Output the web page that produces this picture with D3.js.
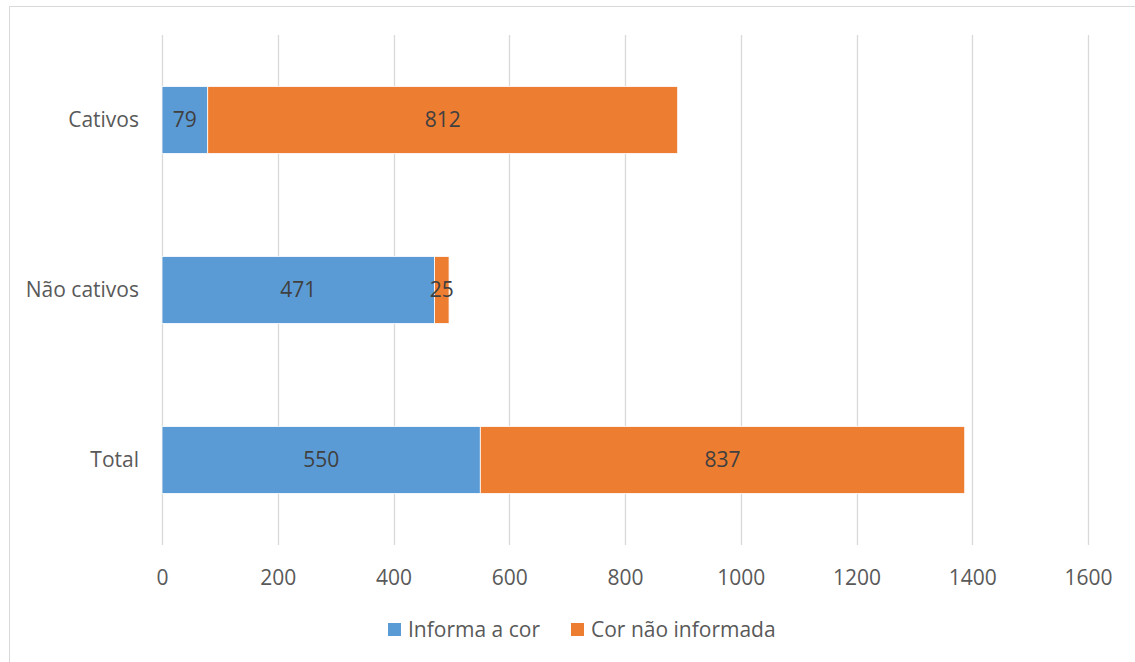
<!DOCTYPE html>
<html>
<head>
<meta charset="utf-8">
<script src="https://cdn.jsdelivr.net/npm/d3@7"></script>
<style>
  html, body { margin: 0; padding: 0; background: #fff; }
  svg { display: block; }
  text { font-family: "Open Sans", "Noto Sans", sans-serif; }
</style>
</head>
<body>
<svg id="chart" width="1135" height="662"></svg>
<script>
// Categories (top to bottom) and stacked series values
const categories = ["Cativos", "Não cativos", "Total"];
const informaCor = [79, 471, 550];
const corNaoInformada = [812, 25, 837];
const seriesNames = ["Informa a cor", "Cor não informada"];
const seriesColors = ["#5B9BD5", "#ED7D31"];
const xTicks = [0, 200, 400, 600, 800, 1000, 1200, 1400, 1600];

const FONT_SIZE = "21px";
const svg = d3.select("#chart");

// Outer chart frame
svg.append("rect")
  .attr("x", 9.5).attr("y", 6.5)
  .attr("width", 1140).attr("height", 670)
  .attr("fill", "none").attr("stroke", "#d9d9d9").attr("stroke-width", 1);

const plot = { left: 162, right: 1088, top: 35, bottom: 545 };

const x = d3.scaleLinear().domain([0, 1600]).range([plot.left, plot.right]);
const y = d3.scaleBand().domain(categories).range([plot.top, plot.bottom]).paddingInner(0.606).paddingOuter(0.303);

// Vertical gridlines
svg.append("g")
  .selectAll("line")
  .data(xTicks)
  .join("line")
  .attr("x1", d => Math.round(x(d)) + 0.5).attr("x2", d => Math.round(x(d)) + 0.5)
  .attr("y1", plot.top).attr("y2", plot.bottom)
  .attr("stroke", "#d9d9d9").attr("stroke-width", 1.3);

// X axis labels
const xAxis = d3.axisBottom(x).tickValues(xTicks).tickSize(0).tickPadding(0).tickFormat(d3.format("d"));
const gx = svg.append("g").attr("transform", `translate(0, ${plot.bottom + 33})`).call(xAxis);
gx.select(".domain").remove();
gx.selectAll("text")
  .attr("y", 0).attr("dy", "0.35em")
  .attr("fill", "#595959").style("font-size", FONT_SIZE)
  .style("font-family", "'Open Sans', sans-serif");

// Y axis category labels
const yAxis = d3.axisLeft(y).tickSize(0).tickPadding(0);
const gy = svg.append("g").attr("transform", `translate(${plot.left - 23}, 0)`).call(yAxis);
gy.select(".domain").remove();
gy.selectAll("text")
  .attr("fill", "#595959").style("font-size", FONT_SIZE)
  .style("font-family", "'Open Sans', sans-serif");

// Stacked data
const rows = categories.map((c, i) => ({ cat: c, s0: informaCor[i], s1: corNaoInformada[i] }));
const stack = d3.stack().keys(["s0", "s1"]);
const layers = stack(rows);

const gBars = svg.append("g");
layers.forEach((layer, li) => {
  gBars.append("g")
    .selectAll("rect")
    .data(layer)
    .join("rect")
    .attr("x", d => x(d[0]))
    .attr("y", d => y(d.data.cat))
    .attr("width", d => x(d[1]) - x(d[0]))
    .attr("height", y.bandwidth())
    .attr("fill", seriesColors[li])
    .attr("stroke", "#fff").attr("stroke-width", 0.8);
});

// Data labels, centred in each segment
layers.forEach((layer) => {
  svg.append("g")
    .selectAll("text")
    .data(layer)
    .join("text")
    .attr("x", d => (x(d[0]) + x(d[1])) / 2)
    .attr("y", d => y(d.data.cat) + y.bandwidth() / 2)
    .attr("dy", "0.35em")
    .attr("text-anchor", "middle")
    .attr("fill", "#404040")
    .style("font-size", FONT_SIZE)
    .text(d => d[1] - d[0]);
});

// Legend
const legend = svg.append("g").attr("transform", "translate(388, 630)");
const legendOffsets = [0, 183];
seriesNames.forEach((name, i) => {
  const g = legend.append("g").attr("transform", `translate(${legendOffsets[i]}, 0)`);
  g.append("rect").attr("x", 0).attr("y", -7).attr("width", 13).attr("height", 13).attr("fill", seriesColors[i]);
  g.append("text").attr("x", 20).attr("y", 0).attr("dy", "0.35em")
    .attr("fill", "#595959").style("font-size", FONT_SIZE).text(name);
});
</script>
</body>
</html>
